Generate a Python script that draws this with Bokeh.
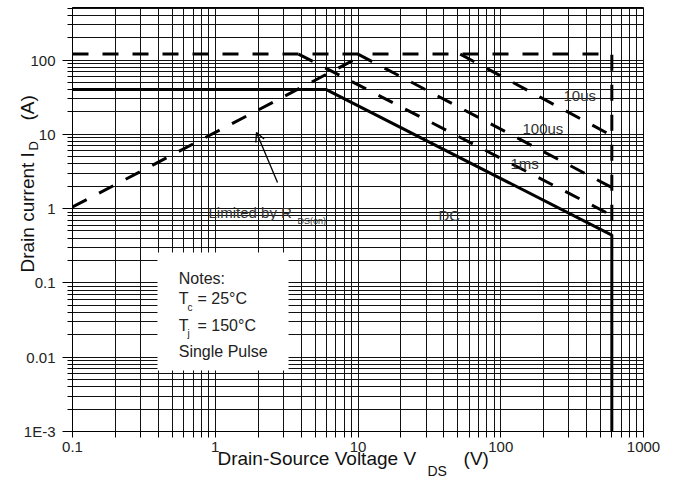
import math
from bokeh.plotting import figure
from bokeh.models import FixedTicker, Label, BoxAnnotation, Arrow, OpenHead, Title
from bokeh.embed import file_html
from bokeh.resources import INLINE

# ---- data -------------------------------------------------------------
x_ticks = [0.1, 1, 10, 100, 1000]
x_tick_labels = ["0.1", "1", "10", "100", "1000"]
y_ticks = [0.001, 0.01, 0.1, 1, 10, 100]
y_tick_labels = ["1E-3", "0.01", "0.1", "1", "10", "100"]

# pulse current limit (dashed) incl. the V(BR)DSS vertical limit
pulse_limit_v = [0.1, 600, 600]
pulse_limit_i = [120, 120, 0.44]
# R_DS(on) limit
rds_v = [0.1, 11.2]
rds_i = [1.05, 120]
# DC
dc_v = [0.1, 6.0, 600, 600]
dc_i = [40, 40, 0.44, 0.001]
# pulse widths
t10us_v = [52, 600]
t10us_i = [120, 9.6]
t100us_v = [10, 600]
t100us_i = [120, 1.92]
t1ms_v = [3.83, 600]
t1ms_i = [120, 0.81]

# ---- figure -----------------------------------------------------------
p = figure(width=667, height=478, x_axis_type="log", y_axis_type="log",
           x_range=(0.1, 1000), y_range=(0.001, 509),
           min_border_left=72, min_border_right=24, min_border_top=7,
           min_border_bottom=47, output_backend="svg", toolbar_location=None)
p.outline_line_color = "black"
p.outline_line_width = 1

x_minor = [k * 10.0 ** d for d in range(-1, 3) for k in range(2, 10)]
y_minor = [k * 10.0 ** d for d in range(-3, 2) for k in range(2, 10)] + [200, 300, 400, 500]
p.xaxis.ticker = FixedTicker(ticks=x_ticks, minor_ticks=x_minor)
p.yaxis.ticker = FixedTicker(ticks=y_ticks, minor_ticks=y_minor)
p.xaxis.major_label_overrides = {v: s for v, s in zip(x_ticks, x_tick_labels)}
p.yaxis.major_label_overrides = {v: s for v, s in zip(y_ticks, y_tick_labels)}

for ax in (p.xaxis, p.yaxis):
    ax.axis_line_color = "black"
    ax.major_tick_line_color = "black"
    ax.minor_tick_line_color = "black"
    ax.major_tick_in = 0
    ax.minor_tick_in = 0
    ax.major_label_text_font = "Liberation Sans"
    ax.major_label_text_font_size = "15px"
    ax.major_label_text_color = "#222222"
p.xaxis.major_tick_out = 6
p.xaxis.minor_tick_out = 6
p.xaxis.major_label_standoff = 4
p.yaxis.major_tick_out = 10
p.yaxis.minor_tick_out = 5
p.yaxis.major_label_standoff = 7
p.yaxis.major_label_text_baseline = "alphabetic"

for g in (p.xgrid, p.ygrid):
    g.grid_line_color = "#111111"
    g.grid_line_width = 1
    g.minor_grid_line_color = "#111111"
    g.minor_grid_line_width = 1

# ---- curves -----------------------------------------------------------
dash = "16 14"
p.line(pulse_limit_v, pulse_limit_i, line_color="black", line_width=3, line_dash=dash)
p.line(rds_v, rds_i, line_color="black", line_width=3, line_dash=dash)
p.line(t10us_v, t10us_i, line_color="black", line_width=3, line_dash=dash)
p.line(t100us_v, t100us_i, line_color="black", line_width=3, line_dash=dash)
p.line(t1ms_v, t1ms_i, line_color="black", line_width=3, line_dash=dash)
p.line(dc_v, dc_i, line_color="black", line_width=3)

# ---- annotations ------------------------------------------------------
p.add_layout(BoxAnnotation(left=0.394, right=3.26, top=0.257, bottom=0.00662,
                           fill_color="white", fill_alpha=1.0, line_color=None))

FONT = "Liberation Sans"
TC = "#222222"

def lab(x, y, text, size, color=TC):
    p.add_layout(Label(x=x, y=y, text=text, text_font=FONT, text_font_size=size,
                       text_color=color, text_align="left",
                       text_baseline="alphabetic"))

lab(0.897, 0.873, "Limited by R", "15px", color="#333333")
lab(3.77, 0.691, "DS(on)", "9px", color="#333333")
lab(36.6, 0.807, "DC", "15px", color="#333333")
lab(275, 33.3, "10us", "15px", color="#333333")
lab(142, 11.8, "100us", "15px", color="#333333")
lab(117, 4.01, "1ms", "15px", color="#333333")

lab(0.555, 0.1146, "Notes:", "16px")
lab(0.555, 0.0622, "T", "16px")
lab(0.64, 0.0471, "c", "10px")
lab(0.751, 0.0622, "= 25°C", "16px")
lab(0.555, 0.0267, "T", "16px")
lab(0.64, 0.0208, "j", "10px")
lab(0.751, 0.0267, "= 150°C", "16px")
lab(0.555, 0.01193, "Single Pulse", "16px")

p.add_layout(Arrow(end=OpenHead(size=9, line_width=1.3, line_color="black"),
                   x_start=2.73, y_start=2.25, x_end=1.945, y_end=10.6,
                   line_width=1.3, line_color="black"))

# ---- axis titles (side-panel titles, overlapping tick labels as in original)
NB = "\u00a0"

def side_title(place, text, size, offset, standoff, valign):
    p.add_layout(Title(text=text, align="left", offset=offset, standoff=standoff,
                       vertical_align=valign, text_font=FONT, text_font_size=size,
                       text_font_style="normal", text_color="#111111"), place)

side_title("below", "Drain-Source Voltage V" + NB * 9 + "(V)", "19px", 145, -13, "top")
side_title("below", "DS", "14px", 355, -7, "bottom")

side_title("left", "Drain current I" + NB * 6 + "(A)", "19px", 159, -34, "bottom")
side_title("left", "D", "13px", 281, -41, "bottom")

open("out.html", "w").write(file_html(p, INLINE))
